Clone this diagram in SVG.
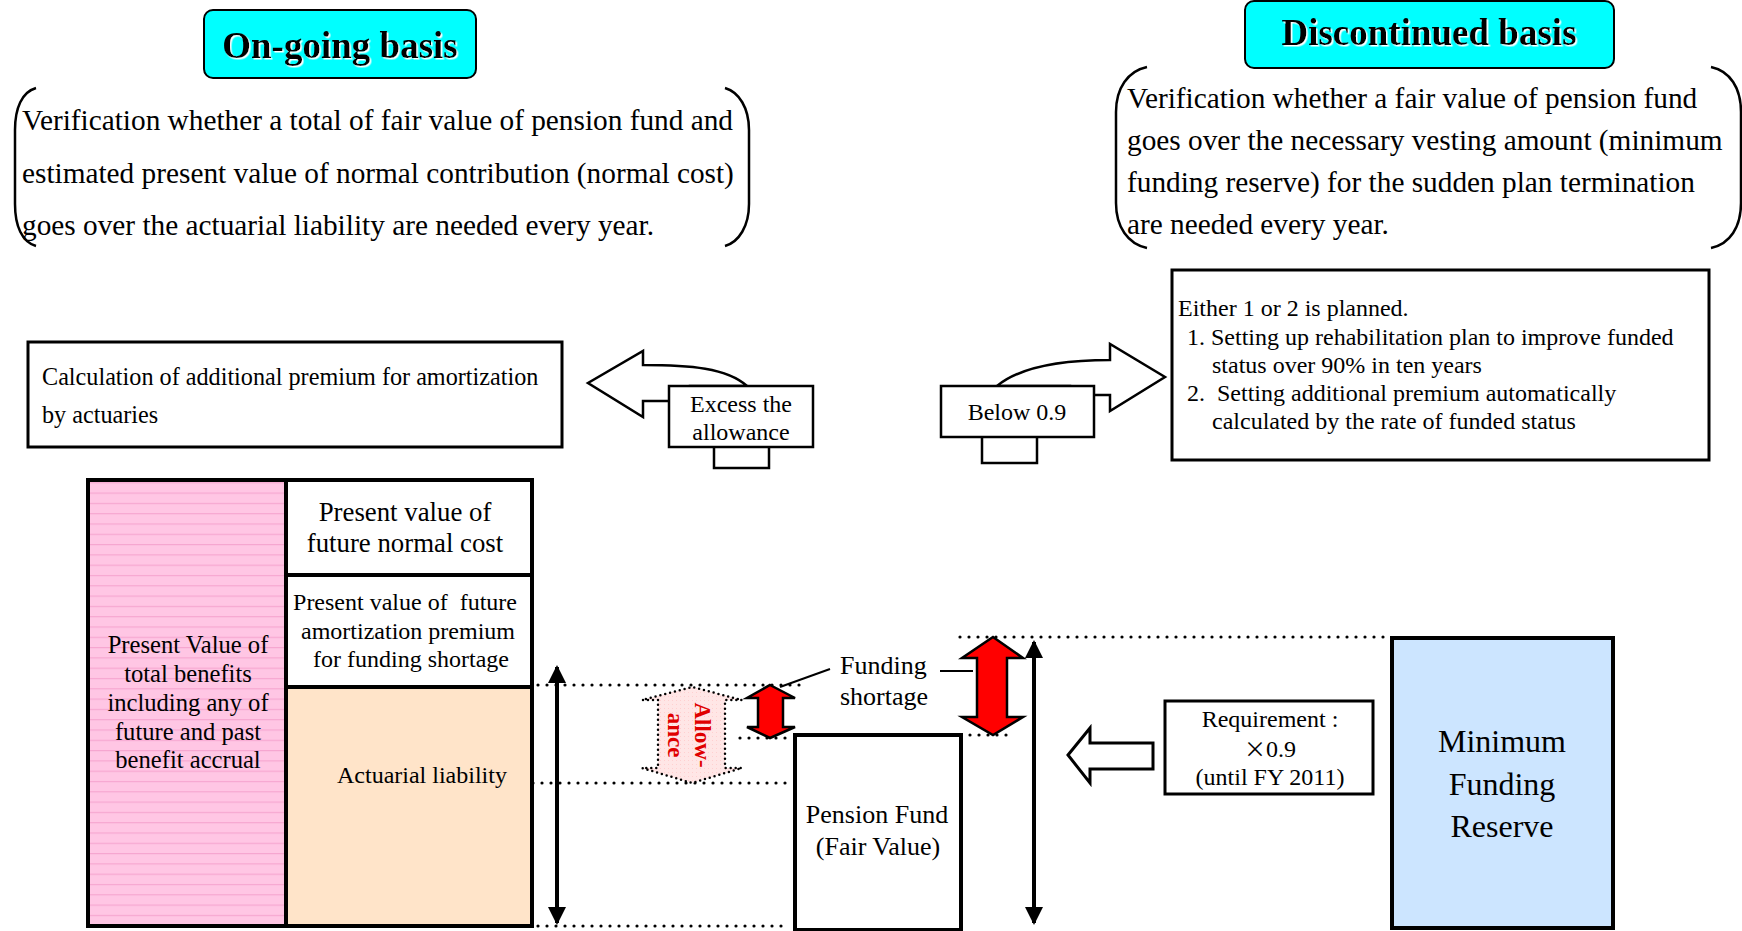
<svg xmlns="http://www.w3.org/2000/svg" width="1742" height="931" viewBox="0 0 1742 931">
<defs>
<style>
text{font-family:"Liberation Serif","Times New Roman",serif;fill:#000}
.t29{font-size:29.3px}
.t25{font-size:24.2px}
.t24{font-size:24px}
.t26{font-size:26px}
.t22{font-size:24px}
.mid{text-anchor:middle}
.box{fill:#fff;stroke:#000;stroke-width:3}
.thin{fill:#fff;stroke:#000;stroke-width:2.5}
.chart{stroke:#000;stroke-width:4}
.dot{fill:none;stroke:#000;stroke-width:3.2;stroke-linecap:round;stroke-dasharray:0 9}
.brk{fill:none;stroke:#000;stroke-width:2.5}
.red{fill:#ff0000;stroke:#000;stroke-width:2.5;stroke-linejoin:miter}
.title{font-weight:bold;font-size:37px;text-anchor:middle}
.pre{white-space:pre}
</style>
<pattern id="pinkp" width="8" height="10.3" patternUnits="userSpaceOnUse">
<rect width="8" height="10.3" fill="#ffc6e4"/>
<line x1="0" y1="9" x2="8" y2="9" stroke="#f6a6d0" stroke-width="1.2"/>
</pattern>
<pattern id="allowp" width="4" height="4" patternUnits="userSpaceOnUse">
<rect width="4" height="4" fill="#ffe6e6"/>
<rect width="1" height="1" fill="#ffd0d0"/>
</pattern>
<marker id="ah" viewBox="0 0 18 18" refX="16" refY="9" markerWidth="18" markerHeight="18" markerUnits="userSpaceOnUse" orient="auto-start-reverse">
<path d="M0,0 L18,9 L0,18 Z" fill="#000"/>
</marker>
<filter id="wsh" x="-5%" y="-20%" width="110%" height="140%">
<feDropShadow dx="1.5" dy="1.5" stdDeviation="0" flood-color="#ffffff"/>
</filter>
</defs>

<g id="title-ongoing">
<rect x="204" y="10" width="272" height="68" rx="9" fill="#00ffff" stroke="#000" stroke-width="2"/>
<text class="title" x="340" y="58" filter="url(#wsh)">On-going basis</text>
</g>

<g id="desc-ongoing">
<path class="brk" d="M36,88 C22,92 15,108 15,130 L15,204 C15,226 22,242 36,246"/>
<path class="brk" d="M725,88 C739,92 749,108 749,130 L749,204 C749,226 739,242 725,246"/>
<text class="t29" x="22" y="130">Verification whether a total of fair value of pension fund and</text>
<text class="t29" x="22" y="183">estimated present value of normal contribution (normal cost)</text>
<text class="t29" x="22" y="235">goes over the actuarial liability are needed every year.</text>
</g>

<g id="title-discontinued">
<rect x="1245" y="1" width="369" height="67" rx="9" fill="#00ffff" stroke="#000" stroke-width="2"/>
<text class="title" x="1429" y="45" filter="url(#wsh)">Discontinued basis</text>
</g>

<g id="desc-discontinued">
<path class="brk" d="M1147,67 C1128,71 1116,88 1116,112 L1116,203 C1116,227 1128,244 1147,248"/>
<path class="brk" d="M1711,67 C1730,71 1741,88 1741,112 L1741,203 C1741,227 1730,244 1711,248"/>
<text class="t29" x="1127" y="108">Verification whether a fair value of pension fund</text>
<text class="t29" x="1127" y="150">goes over the necessary vesting amount (minimum</text>
<text class="t29" x="1127" y="192">funding reserve) for the sudden plan termination</text>
<text class="t29" x="1127" y="234">are needed every year.</text>
</g>

<g id="calc-box">
<rect class="box" x="28" y="342" width="534" height="105"/>
<text class="t25" x="42" y="385">Calculation of additional premium for amortization</text>
<text class="t25" x="42" y="423">by actuaries</text>
</g>

<g id="connectors">
<path class="thin" d="M747,386 C727,368 690,365 643,365 L643,351 L588,383 L643,417 L643,401 L690,401 L690,386 Z"/>
<path class="thin" d="M997,386 C1020,367 1060,360 1110,360 L1110,344 L1165,377 L1110,411 L1110,395 L1070,395 L1070,386 Z"/>
<line class="dot" x1="538" y1="685" x2="807" y2="685"/>
<line class="dot" x1="740" y1="738" x2="790" y2="738"/>
<line class="dot" x1="970" y1="735" x2="1012" y2="735"/>
<line class="dot" x1="524" y1="783" x2="790" y2="783"/>
<line class="dot" x1="538" y1="926" x2="790" y2="926"/>
<line class="dot" x1="960" y1="637" x2="1390" y2="637"/>
<line x1="557" y1="667" x2="557" y2="923" stroke="#000" stroke-width="4" marker-start="url(#ah)" marker-end="url(#ah)"/>
<line x1="1034" y1="642" x2="1034" y2="923" stroke="#000" stroke-width="4" marker-start="url(#ah)" marker-end="url(#ah)"/>
<polygon class="red" points="770,685 795,698 783,698 783,727 795,727 770,738 747,727 758,727 758,698 747,698"/>
<polygon class="red" points="993,637 1023,658 1007,658 1007,717 1023,717 993,735 962,717 977,717 977,658 962,658"/>
<line x1="780" y1="687" x2="830" y2="669" stroke="#000" stroke-width="2"/>
<line x1="940" y1="671" x2="973" y2="671" stroke="#000" stroke-width="2"/>
<polygon points="1068,755 1090,728 1090,743 1153,743 1153,769 1090,769 1090,783" fill="#fff" stroke="#000" stroke-width="3"/>
</g>

<g id="excess-box">
<rect class="thin" x="714" y="440" width="55" height="28"/>
<rect class="thin" x="669" y="386" width="144" height="61"/>
<text class="t24 mid" x="741" y="412">Excess the</text>
<text class="t24 mid" x="741" y="440">allowance</text>
</g>

<g id="below-box">
<rect class="thin" x="982" y="430" width="55" height="33"/>
<rect class="thin" x="941" y="386" width="153" height="51"/>
<text class="t24 mid" x="1017" y="420">Below 0.9</text>
</g>

<g id="either-box">
<rect class="box" x="1172" y="270" width="537" height="190"/>
<text class="t24" x="1178" y="316">Either 1 or 2 is planned.</text>
<text class="t24" x="1187" y="345">1. Setting up rehabilitation plan to improve funded</text>
<text class="t24" x="1212" y="373">status over 90% in ten years</text>
<text class="t24 pre" x="1187" y="401">2.  Setting additional premium automatically</text>
<text class="t24" x="1212" y="429">calculated by the rate of funded status</text>
</g>

<g id="pv-total-benefits">
<rect class="chart" x="88" y="480" width="198" height="446" fill="url(#pinkp)"/>
<text class="mid" font-size="24.6" x="188" y="653">Present Value of</text>
<text class="mid" font-size="24.6" x="188" y="682">total benefits</text>
<text class="mid" font-size="24.6" x="188" y="711">including any of</text>
<text class="mid" font-size="24.6" x="188" y="740">future and past</text>
<text class="mid" font-size="24.6" x="188" y="768">benefit accrual</text>
</g>

<g id="pv-normal-cost">
<rect class="chart" x="286" y="480" width="246" height="95" fill="#fff"/>
<text class="mid" font-size="26.8" x="405" y="521">Present value of</text>
<text class="mid" font-size="26.8" x="405" y="552">future normal cost</text>
</g>

<g id="pv-amortization">
<rect class="chart" x="286" y="575" width="246" height="112" fill="#fff"/>
<text class="t24 mid pre" x="405" y="610">Present value of  future</text>
<text class="t24 mid" x="408" y="639">amortization premium</text>
<text class="t24 mid" x="411" y="667">for funding shortage</text>
</g>

<g id="actuarial-liability">
<rect class="chart" x="286" y="687" width="246" height="239" fill="#ffe4c9"/>
<text class="t24" x="337" y="783">Actuarial liability</text>
</g>

<g id="allowance">
<polygon points="658,700 642,700 692,687 742,700 725,700 725,768 742,768 692,783 642,768 658,768" fill="url(#allowp)" stroke="#000" stroke-width="2.5" stroke-linecap="round" stroke-dasharray="0 5"/>
<text transform="translate(695,735) rotate(90)" text-anchor="middle" font-weight="bold" font-size="23" style="fill:#e00000">Allow-</text>
<text transform="translate(668,735) rotate(90)" text-anchor="middle" font-weight="bold" font-size="23" style="fill:#e00000">ance</text>
</g>

<g id="funding-shortage">
<text class="t26" x="840" y="674">Funding</text>
<text class="t26" x="840" y="705">shortage</text>
</g>

<g id="pension-fund">
<rect x="795" y="735" width="166" height="195" fill="#fff" stroke="#000" stroke-width="4"/>
<text class="t26 mid" x="877" y="823">Pension Fund</text>
<text class="t26 mid" x="878" y="855">(Fair Value)</text>
</g>

<g id="requirement">
<rect class="box" x="1165" y="701" width="208" height="93"/>
<text class="t22 mid" x="1270" y="727">Requirement :</text>
<text class="t22 mid" x="1270" y="757"><tspan font-family="'Noto Sans CJK JP',sans-serif" font-size="22">×</tspan>0.9</text>
<text class="t22 mid" x="1270" y="785">(until FY 2011)</text>
</g>

<g id="minimum-funding-reserve">
<rect x="1392" y="638" width="221" height="290" fill="#cce5ff" stroke="#000" stroke-width="4"/>
<text class="mid" font-size="32" x="1502" y="752">Minimum</text>
<text class="mid" font-size="32" x="1502" y="795">Funding</text>
<text class="mid" font-size="32" x="1502" y="837">Reserve</text>
</g>
</svg>
